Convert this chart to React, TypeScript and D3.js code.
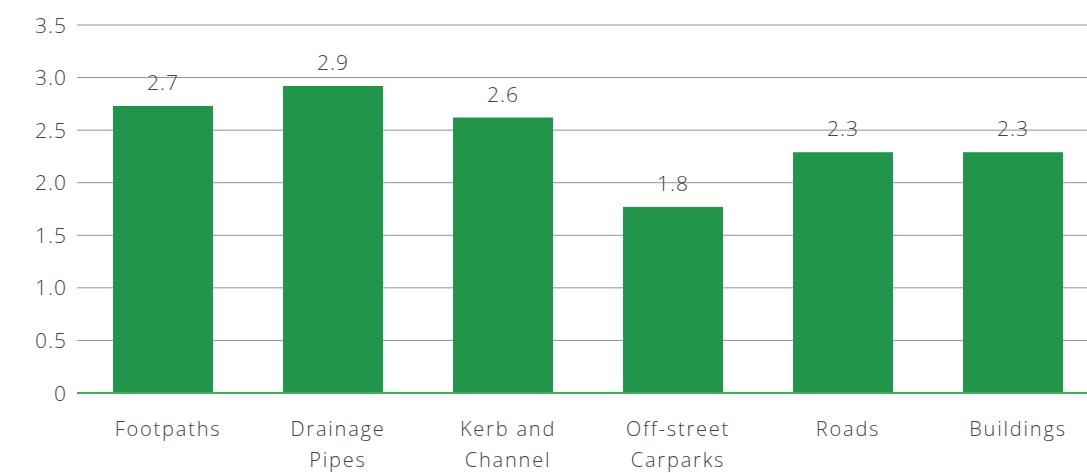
import React from "react";
import * as d3 from "d3";

const categories = ["Footpaths", "Drainage Pipes", "Kerb and Channel", "Off-street Carparks", "Roads", "Buildings"];
const categoryLines = [["Footpaths"], ["Drainage", "Pipes"], ["Kerb and", "Channel"], ["Off-street", "Carparks"], ["Roads"], ["Buildings"]];
const values = [2.73, 2.92, 2.62, 1.77, 2.29, 2.29];
const valueLabels = ["2.7", "2.9", "2.6", "1.8", "2.3", "2.3"];
const yTicks = [0, 0.5, 1.0, 1.5, 2.0, 2.5, 3.0, 3.5];
const yTickLabels = ["0", "0.5", "1.0", "1.5", "2.0", "2.5", "3.0", "3.5"];

const W = 1087, H = 473;
const FONT = "'Open Sans', Lato, sans-serif";

export default function App() {
  const x = d3.scaleBand<string>().domain(categories).range([78, 1098]).paddingInner(0.412).paddingOuter(0.206);
  const y = d3.scaleLinear().domain([0, 3.5]).range([393, 25]);
  const x0 = 77;
  return (
    <svg width={W} height={H} style={{ position: "absolute", left: 0, top: 0 }} fontFamily={FONT}>
      {yTicks.map((t, i) => (
        <g key={i}>
          {t !== 0 && <line x1={x0} x2={W} y1={y(t)} y2={y(t)} stroke="#929292" strokeWidth={1} />}
          <text x={67} y={y(t)} dy="0.36em" textAnchor="end" fontSize={21} fontWeight={300} letterSpacing={1} fill="#444">{yTickLabels[i]}</text>
        </g>
      ))}
      {categories.map((c, i) => (
        <g key={c}>
          <rect x={x(c)} y={y(values[i])} width={x.bandwidth()} height={y(0) - y(values[i])} fill="#21964a" />
          <text x={x(c)! + x.bandwidth() / 2} y={y(values[i]) - 16} textAnchor="middle" fontSize={21} fontWeight={300} letterSpacing={1} fill="#444">{valueLabels[i]}</text>
          {categoryLines[i].map((l, j) => (
            <text key={j} x={x(c)! + x.bandwidth() / 2 + 5} y={436 + j * 31} textAnchor="middle" fontSize={20} fontWeight={300} letterSpacing={1.8} fill="#444">{l}</text>
          ))}
        </g>
      ))}
      <line x1={x0} x2={W} y1={y(0)} y2={y(0)} stroke="#3fae5e" strokeWidth={2} />
    </svg>
  );
}
